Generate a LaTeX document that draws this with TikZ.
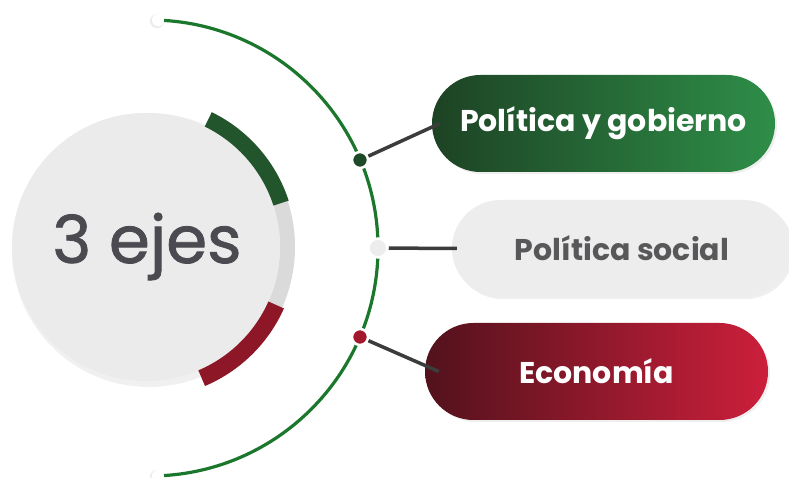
\documentclass[tikz,border=0pt]{standalone}
\usepackage{fontspec}
\setmainfont{Poppins}
\newfontfamily\ejesfont{Poppins}[FakeBold=1.2]
\usetikzlibrary{shadows,positioning,shapes.geometric}

\definecolor{discgray}{HTML}{EBEBEB}
\definecolor{ringgray}{HTML}{DADADA}
\definecolor{ejesgray}{HTML}{4B4A50}
\definecolor{arcgreen}{HTML}{1B772B}
\definecolor{bandgreen}{HTML}{22552C}
\definecolor{bandred}{HTML}{8E1727}
\definecolor{conngray}{HTML}{3C3C3C}
\definecolor{pgreenL}{HTML}{1D4324}
\definecolor{pgreenM}{HTML}{235A2F}
\definecolor{pgreenR}{HTML}{2E8E48}
\definecolor{predL}{HTML}{52121C}
\definecolor{predM}{HTML}{901828}
\definecolor{predR}{HTML}{CC1F3B}
\definecolor{pillgray}{HTML}{EDEDED}
\definecolor{socgray}{HTML}{58585A}
\definecolor{dotgreen}{HTML}{1F4A27}
\definecolor{dotred}{HTML}{A3182C}

\begin{document}
\begin{tikzpicture}[x=1pt,y=1pt,
  pill/.style={minimum width=343pt, minimum height=97pt, rounded corners=48.5pt,
    inner sep=0pt, font=\fontsize{30}{34}\selectfont\bfseries,
    drop shadow={opacity=0.12, shadow xshift=2pt, shadow yshift=-2pt}},
  axdot/.style={circle, draw=white, line width=2.5pt, minimum size=16pt, inner sep=0pt},
  conn/.style={conngray, line width=3.5pt}]
%\draw [help lines, step=10pt](0,0) grid (789,478);
\useasboundingbox (0,0) rectangle (789,478);
\fill [white] (0,0) rectangle (789,478);

% big arc and its end points
\draw [arcgreen, line width=3.2pt] (150,230) ++(88:228) arc [radius=228, start angle=88, end angle=-88];
\fill [gray!15] (150,230) ++(88:228) ++(-1,-1) circle (7);
\fill [white] (150,230) ++(88:228) circle (6);
\fill [gray!15] (150,230) ++(-88:228) ++(-1,-1) circle (7);
\fill [white] (150,230) ++(-88:228) circle (6);

% disc
\begin{scope}[shift={(146,231)}]
\fill [black, opacity=0.06] (3,-3) circle (137);
\fill [ringgray] (18:149) arc [radius=149, start angle=18, end angle=-24] -- (-24:134) arc [radius=134, start angle=-24, end angle=18] -- cycle;
\fill [discgray] (0,0) circle (134);
\fill [bandgreen] (64:150) arc [radius=150, start angle=64, end angle=18] -- (18:134) arc [radius=134, start angle=18, end angle=64] -- cycle;
\fill [bandred] (-24:151) arc [radius=151, start angle=-24, end angle=-67] -- (-67:134) arc [radius=134, start angle=-67, end angle=-24] -- cycle;
\end{scope}
\node [font=\ejesfont\fontsize{66}{66}\selectfont, text=ejesgray, anchor=base] (ejes) at (147,215) {3 ejes};

% pills
\node [pill, left color=pgreenL, middle color=pgreenM, right color=pgreenR, text=white] (gpill) at (603.5,354.5) {Política y gobierno};
\node [pill, fill=pillgray, text=socgray, minimum width=340pt] (spill) at (622,229.5) {Política social};
\node [pill, left color=predL, middle color=predM, right color=predR, text=white] (rpill) at (596.5,106.5) {Economía};

% dots on the arc
\node [axdot, fill=dotgreen] (gdot) at (360,318) {};
\node [axdot, fill=pillgray, minimum size=19pt] (sdot) at (378,230) {};
\node [axdot, fill=dotred] (rdot) at (360,141) {};

\draw [conn] (gdot) -- ([xshift=8pt]gpill.west);
\draw [conn] (sdot) -- ([xshift=5pt]spill.west);
\draw [conn] (rdot) -- ([xshift=14pt]rpill.west);
\end{tikzpicture}
\end{document}
